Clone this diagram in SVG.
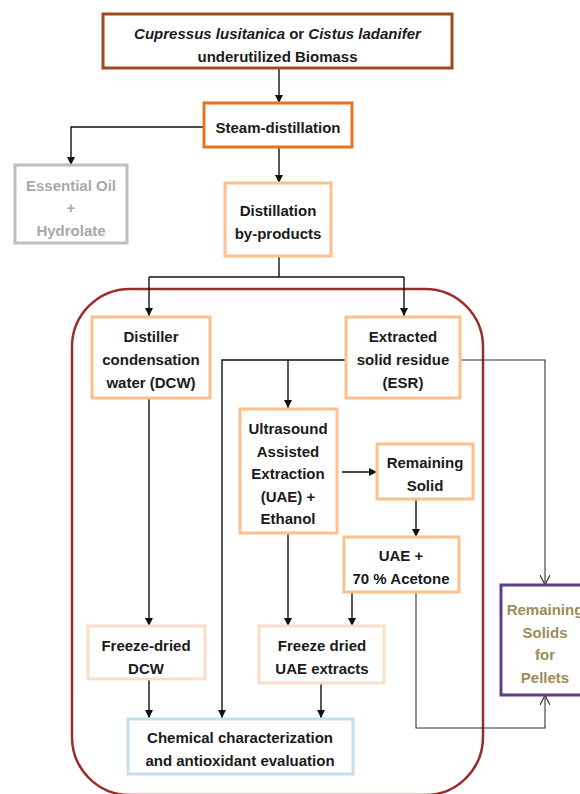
<svg xmlns="http://www.w3.org/2000/svg" width="580" height="794" viewBox="0 0 580 794">
<style>
text{font-family:"Liberation Sans",Arial,sans-serif;font-size:15px;font-weight:bold;fill:#1a1a1a;text-anchor:middle;dominant-baseline:central}
.box{fill:#fff;stroke-width:3}
.lo{stroke:#FCC08E}
.pe{stroke:#FBDDC8}
.c{fill:none;stroke:#111;stroke-width:1.4}
.t{fill:none;stroke:#333;stroke-width:1.1}
</style>
<defs>
<marker id="a" viewBox="0 0 10 10" refX="10" refY="5" markerWidth="8" markerHeight="8" markerUnits="userSpaceOnUse" orient="auto"><path d="M0,0 L10,5 L0,10 z" fill="#111"/></marker>
<marker id="o" viewBox="0 0 10 10" refX="10" refY="5" markerWidth="10" markerHeight="10" markerUnits="userSpaceOnUse" orient="auto"><path d="M0,0 L10,5 L0,10" fill="none" stroke="#333" stroke-width="1.2"/></marker>
</defs>
<rect x="72" y="289" width="411" height="506" rx="58" fill="none" stroke="#9B2D2A" stroke-width="2.5"/>
<g id="connectors">
<path class="c" d="M279,68 V103" marker-end="url(#a)"/>
<path class="c" d="M204,127 H71 V165" marker-end="url(#a)"/>
<path class="c" d="M279,147 V183" marker-end="url(#a)"/>
<path class="c" d="M279,256 V277"/>
<path class="c" d="M149,277 H404"/>
<path class="c" d="M149,277 V316" marker-end="url(#a)"/>
<path class="c" d="M404,277 V316" marker-end="url(#a)"/>
<path class="c" d="M149,398 V626" marker-end="url(#a)"/>
<path class="c" d="M149,679 V718" marker-end="url(#a)"/>
<path class="c" d="M346,360 H222 V718" marker-end="url(#a)"/>
<path class="c" d="M288,360 V408" marker-end="url(#a)"/>
<path class="c" d="M342,472 H377" marker-end="url(#a)"/>
<path class="c" d="M416,499 V537" marker-end="url(#a)"/>
<path class="c" d="M288,533 V626" marker-end="url(#a)"/>
<path class="c" d="M352,592 V626" marker-end="url(#a)"/>
<path class="c" d="M321,683 V718" marker-end="url(#a)"/>
<path class="t" d="M460,360 H545 V585" marker-end="url(#o)"/>
<path class="t" d="M416,592 V728 H545 V695" marker-end="url(#o)"/>
</g>
<g id="biomass">
<rect class="box" x="103" y="14" width="349" height="54" stroke="#9E4A1C"/>
<text x="277.5" y="33"><tspan font-style="italic">Cupressus lusitanica</tspan> or <tspan font-style="italic">Cistus ladanifer</tspan></text>
<text x="277.5" y="56">underutilized Biomass</text>
</g>
<g id="steam">
<rect class="box" x="204" y="103" width="148" height="44" stroke="#E8731E"/>
<text x="278" y="127">Steam-distillation</text>
</g>
<g id="essential">
<rect class="box" x="15" y="165" width="112" height="78" stroke="#BEBEBE"/>
<text x="71" y="185" style="fill:#A9A9A9">Essential Oil</text>
<text x="71" y="207" style="fill:#A9A9A9">+</text>
<text x="71" y="230" style="fill:#A9A9A9">Hydrolate</text>
</g>
<g id="byproducts">
<rect class="box lo" x="225" y="183" width="106" height="73"/>
<text x="278" y="210">Distillation</text>
<text x="278" y="233">by-products</text>
</g>
<g id="dcw">
<rect class="box lo" x="92" y="317" width="118" height="81"/>
<text x="151" y="336">Distiller</text>
<text x="151" y="359">condensation</text>
<text x="151" y="382">water (DCW)</text>
</g>
<g id="esr">
<rect class="box lo" x="346" y="317" width="114" height="81"/>
<text x="403" y="336">Extracted</text>
<text x="403" y="359">solid residue</text>
<text x="403" y="382">(ESR)</text>
</g>
<g id="uae">
<rect class="box lo" x="240" y="409" width="97" height="124"/>
<text x="288" y="428">Ultrasound</text>
<text x="288" y="451">Assisted</text>
<text x="288" y="473">Extraction</text>
<text x="288" y="496">(UAE) +</text>
<text x="288" y="518">Ethanol</text>
</g>
<g id="remaining">
<rect class="box lo" x="377" y="444" width="96" height="55"/>
<text x="425" y="462">Remaining</text>
<text x="425" y="485">Solid</text>
</g>
<g id="acetone">
<rect class="box lo" x="344" y="537" width="115" height="55"/>
<text x="401" y="555">UAE +</text>
<text x="401" y="578">70 % Acetone</text>
</g>
<g id="fd-dcw">
<rect class="box pe" x="88" y="626" width="117" height="53"/>
<text x="146" y="645">Freeze-dried</text>
<text x="146" y="668">DCW</text>
</g>
<g id="fd-uae">
<rect class="box pe" x="259" y="626" width="125" height="57"/>
<text x="322" y="645">Freeze dried</text>
<text x="322" y="668">UAE extracts</text>
</g>
<g id="chemical">
<rect class="box" x="128" y="719" width="225" height="55" stroke="#C8DDEE"/>
<text x="240" y="737">Chemical characterization</text>
<text x="240" y="760">and antioxidant evaluation</text>
</g>
<g id="pellets">
<rect class="box" x="501" y="585" width="90" height="110" stroke="#5E3E8A"/>
<text x="545" y="609" style="fill:#9C8D58">Remaining</text>
<text x="545" y="632" style="fill:#9C8D58">Solids</text>
<text x="545" y="654" style="fill:#9C8D58">for</text>
<text x="545" y="677" style="fill:#9C8D58">Pellets</text>
</g>
</svg>
